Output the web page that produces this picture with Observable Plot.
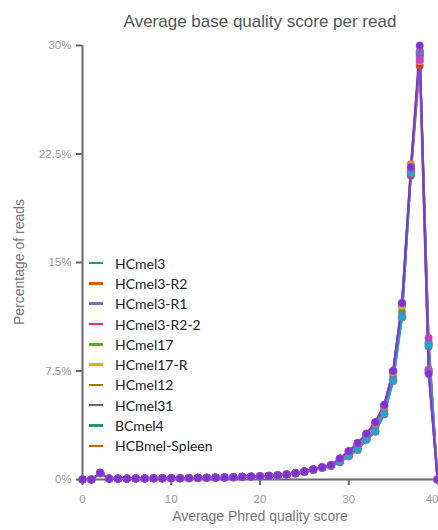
<!DOCTYPE html>
<html>
<head>
<meta charset="utf-8">
<script src="https://cdn.jsdelivr.net/npm/d3@7"></script>
<script src="https://cdn.jsdelivr.net/npm/@observablehq/plot@0.6"></script>
<style>
  html, body { margin: 0; padding: 0; background: #fff; }
  #wrap { position: relative; width: 438px; height: 530px; overflow: hidden; font-family: "Liberation Sans", Arial, sans-serif; }
  #chart { position: absolute; left: 0; top: 0; }
  .title { position: absolute; left: 82px; width: 356px; top: 12px; text-align: center; font-size: 17px; color: #555; }
  .xlabel { position: absolute; left: 82px; width: 356px; top: 508px; text-align: center; font-size: 14px; color: #777; }
  .ylabel { position: absolute; left: 19px; top: 262px; transform: translate(-50%, -50%) rotate(-90deg); white-space: nowrap; font-size: 14px; color: #777; }
  #legend { position: absolute; left: 89px; top: 253px; font-family: Lato, "Open Sans", sans-serif; font-size: 14px; color: #222; }
  .item { height: 20.3px; display: flex; align-items: center; }
  .sw { width: 14px; height: 2.5px; margin-right: 12px; }
</style>
</head>
<body>
<div id="wrap">
  <div id="chart"></div>
  <div class="title">Average base quality score per read</div>
  <div class="ylabel">Percentage of reads</div>
  <div class="xlabel">Average Phred quality score</div>
  <div id="legend"></div>
</div>
<script>
// Phred quality bins (x) and the percentage of reads in each bin, per sample
const quality = [0,1,2,3,4,5,6,7,8,9,10,11,12,13,14,15,16,17,18,19,20,21,22,23,24,25,26,27,28,29,30,31,32,33,34,35,36,37,38,39,40];

const samples = ["HCmel3","HCmel3-R2","HCmel3-R1","HCmel3-R2-2","HCmel17","HCmel17-R","HCmel12","HCmel31","BCmel4","HCBmel-Spleen"];

// legend swatch colours
const legendColors = ["#1b9e77","#d95f02","#7570b3","#e7298a","#66a61e","#e6ab02","#a6761d","#666666","#1b9e77","#d95f02"];
// line / point colours in the plot
const lineColors = ["#3aa64a","#f08a24","#d8352a","#e0b020","#1aa89a","#2a7fc0","#c93cc9","#1ea6cc","#8f62c4","#7a34d2"];

const hcmel3      = [0,0,0.45,0.06,0.06,0.06,0.07,0.07,0.08,0.08,0.09,0.09,0.10,0.11,0.12,0.13,0.14,0.16,0.18,0.20,0.22,0.25,0.29,0.35,0.43,0.54,0.67,0.82,0.96,1.30,1.75,2.25,2.90,3.60,4.80,7.10,11.6,21.4,29.3,9.4,0];
const hcmel3R2    = [0,0,0.44,0.06,0.06,0.06,0.07,0.07,0.08,0.08,0.09,0.09,0.10,0.11,0.12,0.13,0.14,0.16,0.18,0.20,0.22,0.25,0.29,0.35,0.44,0.55,0.69,0.84,0.98,1.40,1.90,2.45,3.10,3.85,5.05,7.40,12.0,21.8,29.2,7.4,0];
const hcmel3R1    = [0,0,0.46,0.06,0.06,0.06,0.07,0.07,0.08,0.08,0.09,0.09,0.10,0.11,0.12,0.13,0.14,0.16,0.18,0.20,0.22,0.25,0.29,0.35,0.44,0.55,0.69,0.84,0.99,1.42,1.92,2.48,3.12,3.90,5.10,7.45,12.1,21.0,28.6,7.5,0];
const hcmel3R22   = [0,0,0.45,0.06,0.06,0.06,0.07,0.07,0.08,0.08,0.09,0.09,0.10,0.11,0.12,0.13,0.14,0.16,0.18,0.20,0.22,0.25,0.29,0.35,0.44,0.55,0.69,0.84,0.98,1.40,1.90,2.46,3.10,3.88,5.08,7.42,12.0,21.3,28.9,7.6,0];
const hcmel17     = [0,0,0.43,0.06,0.06,0.06,0.07,0.07,0.08,0.08,0.09,0.09,0.10,0.11,0.12,0.13,0.14,0.16,0.18,0.20,0.22,0.25,0.29,0.35,0.43,0.53,0.66,0.80,0.94,1.22,1.62,2.08,2.78,3.35,4.55,6.85,11.3,21.2,29.5,9.5,0];
const hcmel17R    = [0,0,0.44,0.06,0.06,0.06,0.07,0.07,0.08,0.08,0.09,0.09,0.10,0.11,0.12,0.13,0.14,0.16,0.18,0.20,0.22,0.25,0.29,0.35,0.43,0.53,0.66,0.80,0.94,1.20,1.60,2.05,2.75,3.30,4.50,6.80,11.2,21.1,29.4,9.2,0];
const hcmel12     = [0,0,0.46,0.06,0.06,0.06,0.07,0.07,0.08,0.08,0.09,0.09,0.10,0.11,0.12,0.13,0.14,0.16,0.18,0.20,0.22,0.25,0.29,0.35,0.44,0.56,0.70,0.85,1.00,1.45,1.95,2.50,3.15,3.95,5.15,7.50,12.2,21.3,29.0,9.8,0];
const hcmel31     = [0,0,0.44,0.06,0.06,0.06,0.07,0.07,0.08,0.08,0.09,0.09,0.10,0.11,0.12,0.13,0.14,0.16,0.18,0.20,0.22,0.25,0.29,0.35,0.43,0.53,0.66,0.80,0.94,1.21,1.61,2.06,2.76,3.32,4.52,6.82,11.2,21.2,29.6,9.3,0];
const bcmel4      = [0,0,0.45,0.06,0.06,0.06,0.07,0.07,0.08,0.08,0.09,0.09,0.10,0.11,0.12,0.13,0.14,0.16,0.18,0.20,0.22,0.25,0.29,0.35,0.44,0.56,0.70,0.85,1.00,1.45,1.95,2.50,3.15,3.95,5.15,7.50,12.2,21.5,29.6,7.6,0];
const hcbmelSpleen= [0,0,0.46,0.06,0.06,0.06,0.07,0.07,0.08,0.08,0.09,0.09,0.10,0.11,0.12,0.13,0.14,0.16,0.18,0.20,0.22,0.25,0.29,0.35,0.44,0.56,0.70,0.85,1.00,1.46,1.96,2.52,3.18,3.96,5.16,7.52,12.2,21.6,30.0,7.3,0];

const seriesValues = [hcmel3, hcmel3R2, hcmel3R1, hcmel3R22, hcmel17, hcmel17R, hcmel12, hcmel31, bcmel4, hcbmelSpleen];

const yTicks = [0, 7.5, 15, 22.5, 30];
const xTicksInner = [0, 10, 20, 30];
const xTickLast = [40];

const rows = samples.flatMap((name, i) =>
  quality.map((q, j) => ({sample: name, q, pct: seriesValues[i][j]}))
);

const chart = Plot.plot({
  width: 438,
  height: 530,
  marginTop: 45,
  marginBottom: 51,
  marginLeft: 82,
  marginRight: 1,
  style: {fontFamily: "'Liberation Sans', Arial, sans-serif", fontSize: "11.5px", background: "transparent", overflow: "visible"},
  x: {domain: [0, 40]},
  y: {domain: [0, 30]},
  color: {domain: samples, range: lineColors},
  marks: [
    Plot.axisY({ticks: yTicks, tickFormat: d => d + "%", tickSize: 6, tickPadding: 5, stroke: "#666", strokeWidth: 2, color: "#999", label: null}),
    Plot.axisX({ticks: xTicksInner, tickSize: 6, tickPadding: 9, stroke: "#666", strokeWidth: 2, color: "#999", label: null}),
    Plot.axisX({ticks: xTickLast, tickSize: 6, tickPadding: 9, stroke: "#666", strokeWidth: 2, color: "#999", label: null, textAnchor: "end", dx: 1}),
    Plot.ruleX([0], {stroke: "#6a6a6a", strokeWidth: 2}),
    Plot.ruleY([0], {stroke: "#6a6a6a", strokeWidth: 2}),
    Plot.line(rows, {x: "q", y: "pct", z: "sample", stroke: "sample", strokeWidth: 2, strokeOpacity: 0.9}),
    Plot.dot(rows, {x: "q", y: "pct", fill: "sample", r: 3.8, stroke: "#c04cc8", strokeWidth: 0.6, strokeOpacity: 0.6})
  ]
});
document.getElementById("chart").appendChild(chart);

const legend = document.getElementById("legend");
samples.forEach((name, i) => {
  const item = document.createElement("div");
  item.className = "item";
  const sw = document.createElement("span");
  sw.className = "sw";
  sw.style.background = legendColors[i];
  const label = document.createElement("span");
  label.textContent = name;
  item.appendChild(sw);
  item.appendChild(label);
  legend.appendChild(item);
});
</script>
</body>
</html>
